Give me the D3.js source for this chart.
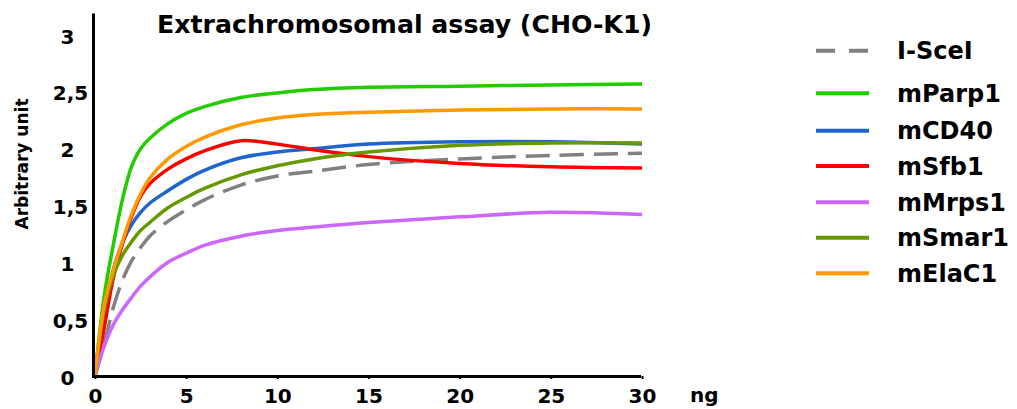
<!DOCTYPE html>
<html>
<head>
<meta charset="utf-8">
<script src="https://cdn.jsdelivr.net/npm/d3@7"></script>
<style>
  html, body { margin: 0; padding: 0; background: #ffffff; }
  svg { display: block; font-family: "DejaVu Sans", Verdana, sans-serif; font-weight: bold; }
</style>
</head>
<body>
<svg id="chart" width="1017" height="409"></svg>
<script>
// ---------- data ----------
const xValues = [0, 0.5, 1, 1.5, 2, 2.5, 3, 4, 5, 6, 8, 10, 12, 15, 20, 25, 30];
const seriesNames = ["I-SceI", "mParp1", "mCD40", "mSfb1", "mMrps1", "mSmar1", "mElaC1"];
const seriesColors = ["#808080", "#22cc00", "#1f66cc", "#ff0000", "#cc66ff", "#669900", "#ff9900"];
const iSceI  = [0, 0.28, 0.60, 0.84, 1.01, 1.13, 1.23, 1.36, 1.46, 1.55, 1.68, 1.76, 1.80, 1.86, 1.91, 1.94, 1.96];
const mParp1 = [0, 0.70, 1.15, 1.55, 1.84, 2.00, 2.09, 2.22, 2.31, 2.37, 2.45, 2.49, 2.52, 2.54, 2.55, 2.56, 2.57];
const mCD40  = [0, 0.55, 0.93, 1.17, 1.33, 1.44, 1.52, 1.63, 1.73, 1.81, 1.92, 1.97, 2.00, 2.04, 2.06, 2.06, 2.04];
const mSfb1  = [0, 0.42, 0.86, 1.16, 1.40, 1.58, 1.69, 1.82, 1.91, 1.98, 2.07, 2.04, 1.99, 1.93, 1.87, 1.84, 1.83];
const mMrps1 = [0, 0.26, 0.45, 0.58, 0.69, 0.79, 0.87, 1.00, 1.08, 1.15, 1.23, 1.28, 1.31, 1.35, 1.40, 1.44, 1.42];
const mSmar1 = [0, 0.58, 0.88, 1.06, 1.18, 1.28, 1.35, 1.48, 1.57, 1.65, 1.77, 1.85, 1.91, 1.97, 2.03, 2.05, 2.05];
const mElaC1 = [0, 0.62, 0.93, 1.18, 1.42, 1.60, 1.74, 1.91, 2.02, 2.10, 2.21, 2.27, 2.30, 2.32, 2.34, 2.35, 2.35];
const seriesValues = [iSceI, mParp1, mCD40, mSfb1, mMrps1, mSmar1, mElaC1];
const xTicks = [0, 5, 10, 15, 20, 25, 30];
const yTicks = [0, 0.5, 1, 1.5, 2, 2.5, 3];
const titleText = "Extrachromosomal assay (CHO-K1)";
const yAxisTitle = "Arbitrary unit";
const xUnitLabel = "ng";

// ---------- layout ----------
const svg = d3.select("#chart");
const x = d3.scaleLinear().domain([0, 30]).range([95, 642]);
const y = d3.scaleLinear().domain([0, 3]).range([376, 35]);

// curves
const line = d3.line()
  .x((d, i) => x(xValues[i]))
  .y(d => y(d))
  .curve(d3.curveCatmullRom.alpha(0.5));

const plot = svg.append("g");
seriesValues.forEach((vals, k) => {
  plot.append("path")
    .datum(vals)
    .attr("d", line)
    .attr("fill", "none")
    .attr("stroke", seriesColors[k])
    .attr("stroke-width", 3.5)
    .attr("stroke-linecap", "butt")
    .attr("stroke-linejoin", "round")
    .attr("stroke-dasharray", k === 0 ? "24,10" : null);
});

// axes
const yAxis = d3.axisLeft(y).tickValues(yTicks).tickSize(3).tickPadding(0)
  .tickFormat(d => String(d).replace(".", ","));
const yg = svg.append("g").attr("transform", "translate(95,0)").call(yAxis);
yg.select(".domain").remove();
yg.selectAll(".tick line").attr("stroke", "#000").attr("stroke-width", 3);
yg.selectAll(".tick text")
  .attr("font-size", 20).attr("font-weight", "bold").attr("fill", "#000")
  .attr("font-family", "DejaVu Sans, sans-serif")
  .attr("text-anchor", "middle")
  .attr("x", d => (String(d).includes(".") ? 70.5 : 67.5) - 95)
  .attr("dy", null).attr("y", 8);

svg.append("line")
  .attr("x1", x(0) - 1.5).attr("x2", x(0) - 1.5)
  .attr("y1", y(3.19)).attr("y2", y(0) + 1.5)
  .attr("stroke", "#000").attr("stroke-width", 3);

const xAxis = d3.axisBottom(x).tickValues(xTicks).tickSize(3).tickPadding(0);
const xg = svg.append("g").attr("transform", `translate(0,${y(0)})`).call(xAxis);
xg.select(".domain").remove();
xg.selectAll(".tick line").attr("stroke", "#000").attr("stroke-width", 2);
xg.selectAll(".tick text")
  .attr("font-size", 20).attr("font-weight", "bold").attr("fill", "#000")
  .attr("font-family", "DejaVu Sans, sans-serif")
  .attr("dy", null).attr("y", 27);

svg.append("line")
  .attr("x1", x(0) - 3).attr("x2", x(30) - 1)
  .attr("y1", y(0) + 0.5).attr("y2", y(0) + 0.5)
  .attr("stroke", "#000").attr("stroke-width", 3);

// axis titles
svg.append("text")
  .attr("x", 690).attr("y", 402)
  .attr("font-size", 20).attr("fill", "#000")
  .text(xUnitLabel);

svg.append("text")
  .attr("transform", "translate(28,164) rotate(-90)")
  .attr("text-anchor", "middle")
  .attr("font-size", 17).attr("fill", "#000")
  .text(yAxisTitle);

// title
svg.append("text")
  .attr("x", 157).attr("y", 33)
  .attr("font-size", 24).attr("fill", "#000")
  .attr("textLength", 495).attr("lengthAdjust", "spacingAndGlyphs")
  .text(titleText);

// legend
const legendY = [50.7, 93.3, 130.7, 166, 202.3, 237.7, 273.3];
const leg = svg.append("g");
seriesNames.forEach((name, k) => {
  leg.append("line")
    .attr("x1", 816).attr("x2", 869)
    .attr("y1", legendY[k]).attr("y2", legendY[k])
    .attr("stroke", seriesColors[k])
    .attr("stroke-width", 4)
    .attr("stroke-dasharray", k === 0 ? "19,14" : null);
  leg.append("text")
    .attr("x", 897).attr("y", legendY[k] + 8.6)
    .attr("font-size", 24).attr("fill", "#000")
    .text(name);
});
</script>
</body>
</html>
